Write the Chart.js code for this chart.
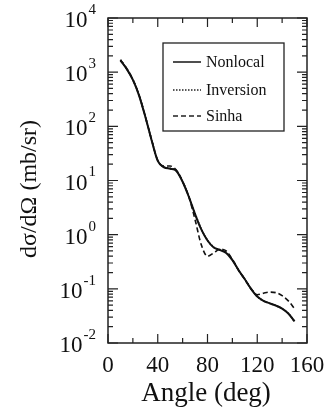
<!DOCTYPE html>
<html>
<head>
<meta charset="utf-8">
<script src="https://cdn.jsdelivr.net/npm/chart.js@4.4.1/dist/chart.umd.min.js"></script>
<style>
  html, body { margin: 0; padding: 0; background: #fff; }
  #wrap { width: 328px; height: 416px; }
</style>
</head>
<body>
<div id="wrap"><canvas id="xsec"></canvas></div>
<script>
// angles in degrees
const angles = [10, 15, 20, 25, 30, 35, 40, 45, 50, 55, 60, 65, 70, 75, 80,
                85, 90, 95, 100, 105, 110, 115, 120, 125, 130, 135, 140, 145, 150];

// cross sections in mb/sr
const nonlocal = [1650, 1150, 720, 370, 150, 56, 23, 17.5, 16.5, 15, 9.5, 5, 2.4, 1.25, 0.78,
                  0.58, 0.52, 0.46, 0.34, 0.22, 0.15, 0.10, 0.072, 0.060, 0.054, 0.049, 0.043, 0.035, 0.025];
const inversion = [1680, 1160, 730, 375, 152, 57, 23.5, 17.8, 16.8, 15.2, 9.6, 5.1, 2.45, 1.27, 0.79,
                   0.59, 0.53, 0.47, 0.345, 0.222, 0.151, 0.101, 0.072, 0.060, 0.054, 0.049, 0.043, 0.035, 0.025];
const sinha = [1700, 1170, 730, 375, 152, 57, 23.5, 18.5, 18.5, 15.5, 9.5, 5, 1.9, 0.65, 0.40,
               0.46, 0.54, 0.50, 0.35, 0.22, 0.15, 0.10, 0.078, 0.083, 0.087, 0.085, 0.075, 0.060, 0.043];

const xTicks = [0, 40, 80, 120, 160];
const xMinorTicks = [20, 60, 100, 140];
const yExponents = [-2, -1, 0, 1, 2, 3, 4];
const legendLabels = ['Nonlocal', 'Inversion', 'Sinha'];

const serif = '"Liberation Serif", "DejaVu Serif", serif';
const dashes = [[], [1.5, 1.5], [5, 3]];

// frame, inside ticks, labels, titles and legend
const framePlugin = {
    id: 'frame',
    afterDraw(chart) {
        const ctx = chart.ctx;
        const area = chart.chartArea;
        const xs = chart.scales.x;
        const ys = chart.scales.y;
        ctx.save();
        ctx.strokeStyle = '#222';
        ctx.lineWidth = 1.5;
        ctx.strokeRect(area.left, area.top, area.right - area.left, area.bottom - area.top);

        // x ticks (bottom and top)
        ctx.lineWidth = 1.2;
        xTicks.concat(xMinorTicks).forEach(v => {
            const px = xs.getPixelForValue(v);
            const len = xTicks.includes(v) ? 9 : 5;
            ctx.beginPath();
            ctx.moveTo(px, area.bottom); ctx.lineTo(px, area.bottom - len);
            ctx.moveTo(px, area.top); ctx.lineTo(px, area.top + len);
            ctx.stroke();
        });

        // y ticks (left and right), decades plus minor 2..9
        yExponents.forEach(e => {
            for (let m = 1; m <= 9; m++) {
                const v = m * Math.pow(10, e);
                if (v > 10000) break;
                const py = ys.getPixelForValue(v);
                const len = m === 1 ? 10 : 5;
                ctx.beginPath();
                ctx.moveTo(area.left, py); ctx.lineTo(area.left + len, py);
                ctx.moveTo(area.right, py); ctx.lineTo(area.right - len, py);
                ctx.stroke();
            }
        });

        ctx.fillStyle = '#111';
        // x tick labels
        ctx.font = '23px ' + serif;
        ctx.textAlign = 'center';
        ctx.textBaseline = 'middle';
        xTicks.forEach(v => {
            ctx.fillText(String(v), xs.getPixelForValue(v), 366);
        });

        // y tick labels as 10 with superscript exponent
        yExponents.forEach(e => {
            const py = ys.getPixelForValue(Math.pow(10, e));
            const exp = e < 0 ? '-' + Math.abs(e) : String(e);
            ctx.font = '15px ' + serif;
            const expW = ctx.measureText(exp).width;
            const right = 96;
            ctx.textAlign = 'left';
            ctx.textBaseline = 'middle';
            ctx.fillText(exp, right - expW, py - 8);
            ctx.font = '23px ' + serif;
            ctx.textAlign = 'right';
            ctx.fillText('10', right - expW - 1, py + 3);
        });

        // axis titles
        ctx.font = '27px ' + serif;
        ctx.textAlign = 'center';
        ctx.textBaseline = 'middle';
        ctx.fillText('Angle (deg)', 206, 394);
        ctx.save();
        ctx.translate(30, 189);
        ctx.rotate(-Math.PI / 2);
        ctx.font = '24px ' + serif;
        ctx.fillText('dσ/dΩ (mb/sr)', 0, 0);
        ctx.restore();

        // legend box
        ctx.lineWidth = 1.3;
        ctx.strokeStyle = '#222';
        ctx.strokeRect(163, 43, 121, 88);
        const rows = [62, 90, 116];
        ctx.font = '16px ' + serif;
        ctx.textAlign = 'left';
        legendLabels.forEach((label, i) => {
            ctx.beginPath();
            ctx.setLineDash(dashes[i]);
            ctx.lineWidth = i === 1 ? 1.5 : 1.6;
            ctx.moveTo(173, rows[i]); ctx.lineTo(201, rows[i]);
            ctx.stroke();
            ctx.setLineDash([]);
            ctx.fillText(label, 206, rows[i] + 1);
        });
        ctx.restore();
    }
};

function series(label, values, dash, width) {
    return {
        label: label,
        data: angles.map((a, i) => ({ x: a, y: values[i] })),
        borderColor: '#111',
        borderWidth: width,
        borderDash: dash,
        pointRadius: 0,
        fill: false,
        cubicInterpolationMode: 'monotone'
    };
}

new Chart(document.getElementById('xsec'), {
    type: 'line',
    data: {
        datasets: [
            series('Sinha', sinha, dashes[2], 1.6),
            series('Inversion', inversion, dashes[1], 1.6),
            series('Nonlocal', nonlocal, dashes[0], 2)
        ]
    },
    options: {
        responsive: true,
        maintainAspectRatio: false,
        animation: false,
        layout: { padding: { left: 108, right: 21, top: 18, bottom: 73 } },
        scales: {
            x: { type: 'linear', min: 0, max: 160, display: false },
            y: { type: 'logarithmic', min: 0.01, max: 10000, display: false }
        },
        plugins: {
            legend: { display: false },
            tooltip: { enabled: false }
        }
    },
    plugins: [framePlugin]
});
</script>
</body>
</html>
